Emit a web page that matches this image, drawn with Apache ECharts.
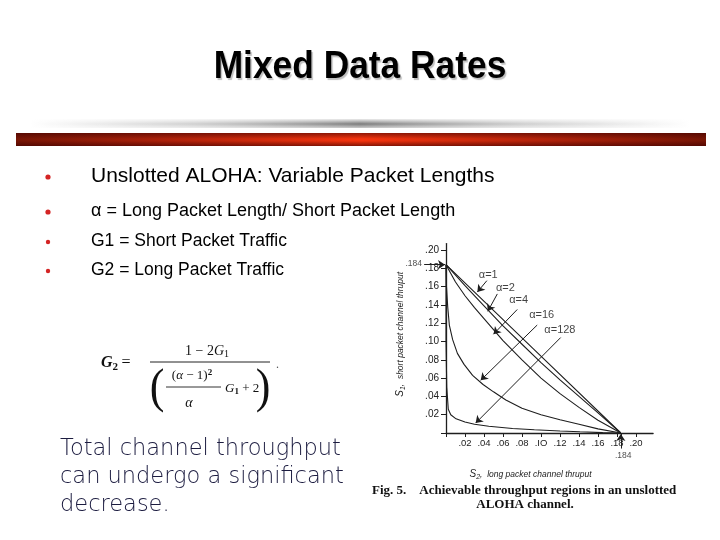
<!DOCTYPE html>
<html>
<head>
<meta charset="utf-8">
<script src="https://cdn.jsdelivr.net/npm/echarts@6/dist/echarts.min.js"></script>
<style>html,body{margin:0;padding:0;background:#fff}#c{width:720px;height:540px}</style>
</head>
<body>
<div id="c"></div>
<script>
// ---- data (S2 = long packet thruput, S1 = short packet thruput) ----
const tickValues = [0.02, 0.04, 0.06, 0.08, 0.10, 0.12, 0.14, 0.16, 0.18, 0.20];
const xTickLabels = ['.02', '.04', '.06', '.08', '.IO', '.12', '.14', '.16', '.18', '.20'];
const yTickLabels = ['.02', '.04', '.06', '.08', '.10', '.12', '.14', '.16', '.18', '.20'];

const curveAlpha1 = [[0, 0.184], [0.092, 0.092], [0.184, 0]];
const curveAlpha2 = [[0, 0.184], [0.02, 0.161], [0.04, 0.139], [0.06, 0.117], [0.08, 0.097], [0.10, 0.077],
  [0.12, 0.058], [0.14, 0.040], [0.16, 0.022], [0.184, 0]];
const curveAlpha4 = [[0, 0.184], [0.01, 0.165], [0.02, 0.150], [0.03, 0.137], [0.04, 0.125], [0.05, 0.113],
  [0.06, 0.101], [0.08, 0.080], [0.10, 0.060], [0.12, 0.043], [0.14, 0.028], [0.16, 0.014], [0.184, 0]];
const curveAlpha16 = [[0, 0.184], [0.0005, 0.160], [0.0018, 0.138], [0.0035, 0.118], [0.007, 0.102], [0.012, 0.087],
  [0.019, 0.075], [0.028, 0.063], [0.039, 0.053], [0.05, 0.045], [0.063, 0.036], [0.08, 0.027], [0.10, 0.020],
  [0.12, 0.0145], [0.14, 0.0095], [0.16, 0.0045], [0.184, 0]];
const curveAlpha128 = [[0, 0.184], [0, 0.10], [0.0008, 0.05], [0.0024, 0.026], [0.005, 0.020], [0.0106, 0.0155],
  [0.02, 0.012], [0.03, 0.0095], [0.045, 0.0073], [0.07, 0.005], [0.093, 0.0035], [0.12, 0.0022],
  [0.141, 0.0013], [0.165, 0.0004], [0.184, 0]];

const alphaNames = ['α=1', 'α=2', 'α=4', 'α=16', 'α=128'];
const alphaLabelPos = [[0.034, 0.173], [0.052, 0.159], [0.066, 0.145], [0.087, 0.1295], [0.103, 0.1126]];
const arrowFrom = [[0.043, 0.1665], [0.054, 0.152], [0.075, 0.135], [0.096, 0.118], [0.1207, 0.1043]];
const arrowTo = [[0.033, 0.154], [0.044, 0.133], [0.050, 0.108], [0.0365, 0.0576], [0.0312, 0.0108]];

const peakText = '.184';
const peakLabelPos = [[-0.034, 0.1855], [0.1865, -0.025]];
const peakArrowFrom = [[-0.023, 0.184], [0.184, -0.017]];
const peakArrowTo = [[-0.001, 0.184], [0.184, -0.001]];

const bulletTexts = ['Unslotted ALOHA: Variable Packet Lengths', 'α = Long Packet Length/ Short Packet Length',
  'G1 = Short Packet Traffic', 'G2 = Long Packet Traffic'];
const noteLines = ['Total channel throughput', 'can undergo a significant', 'decrease.'];
const captionLines = ['Fig. 5.    Achievable throughput regions in an unslotted', 'ALOHA channel.'];

function lab(list, v) {
  const i = tickValues.findIndex(t => Math.abs(t - v) < 1e-6);
  return i >= 0 ? list[i] : '';
}

const chart = echarts.init(document.getElementById('c'), null, {renderer: 'canvas'});
const ink = '#1e1e1e';
const sans = '"Liberation Sans", Arial, sans-serif';
const lineSeries = [curveAlpha1, curveAlpha2, curveAlpha4, curveAlpha16, curveAlpha128].map((d, i) => ({
  type: 'line', name: alphaNames[i], data: d, showSymbol: false, symbol: 'none', smooth: false,
  lineStyle: {color: ink, width: 1.1}, clip: false, silent: true, z: 3
}));

const arrows = arrowFrom.map((f, i) => ({coords: [f, arrowTo[i]]}))
  .concat(peakArrowFrom.map((f, i) => ({coords: [f, peakArrowTo[i]]})));

const graphics = [];
// title
graphics.push({type: 'text', x: 360, y: 68, scaleX: 0.93, originX: 0, originY: 0, style: {
  text: 'Mixed Data Rates', font: 'bold 38px ' + sans, align: 'center', verticalAlign: 'middle',
  fill: '#000', textShadowColor: 'rgba(0,0,0,0.25)', textShadowOffsetX: 1.5, textShadowOffsetY: 1.5, textShadowBlur: 1}});
// grey bar
graphics.push({type: 'rect', shape: {x: 30, y: 119, width: 660, height: 9}, style: {fill: new echarts.graphic.LinearGradient(0, 0, 1, 0, [
  {offset: 0, color: 'rgba(150,150,150,0)'}, {offset: 0.25, color: 'rgba(150,150,150,0.45)'}, {offset: 0.5, color: 'rgba(110,110,110,0.9)'},
  {offset: 0.75, color: 'rgba(150,150,150,0.45)'}, {offset: 1, color: 'rgba(150,150,150,0)'}])}, z: 1});
graphics.push({type: 'rect', shape: {x: 30, y: 119, width: 660, height: 9}, style: {fill: new echarts.graphic.LinearGradient(0, 0, 0, 1, [
  {offset: 0, color: 'rgba(255,255,255,0.85)'}, {offset: 0.55, color: 'rgba(255,255,255,0)'}, {offset: 1, color: 'rgba(255,255,255,0.6)'}])}, z: 2});
// red bar
graphics.push({type: 'rect', shape: {x: 16, y: 133, width: 690, height: 13}, style: {fill: new echarts.graphic.LinearGradient(0, 0, 1, 0, [
  {offset: 0, color: '#761505'}, {offset: 0.2, color: '#a8200a'}, {offset: 0.5, color: '#f5340e'},
  {offset: 0.8, color: '#a8200a'}, {offset: 1, color: '#761505'}])}, z: 1});
graphics.push({type: 'rect', shape: {x: 16, y: 133, width: 690, height: 13}, style: {fill: new echarts.graphic.LinearGradient(0, 0, 0, 1, [
  {offset: 0, color: 'rgba(60,0,0,0.55)'}, {offset: 0.45, color: 'rgba(60,0,0,0)'}, {offset: 0.6, color: 'rgba(60,0,0,0)'}, {offset: 1, color: 'rgba(60,0,0,0.6)'}])}, z: 2});
// bullets
const bulletY = [176, 211, 241, 270];
const bulletSize = [21, 18, 17.5, 17.5];
const bulletR = [2.6, 2.6, 2.2, 2.2];
bulletTexts.forEach((t, i) => {
  graphics.push({type: 'circle', shape: {cx: 48, cy: bulletY[i] + 1, r: bulletR[i]}, style: {fill: '#d42424'}});
  graphics.push({type: 'text', x: 91, y: bulletY[i], style: {text: t, font: bulletSize[i] + 'px ' + sans,
    fill: '#000', verticalAlign: 'middle'}});
});
// formula
const serif = '"Liberation Serif", "DejaVu Serif", serif';
graphics.push({type: 'text', x: 101, y: 363, style: {text: '{g|G}{s|2} {e|=}', verticalAlign: 'middle', rich: {
  g: {font: 'italic bold 16px ' + serif, fill: '#111'}, s: {font: 'bold 11px ' + serif, fill: '#111', padding: [8, 0, 0, 0]},
  e: {font: '16px ' + serif, fill: '#111'}}}});
graphics.push({type: 'text', x: 207, y: 351, style: {text: '{n|1 − 2}{g|G}{s|1}', align: 'center', verticalAlign: 'middle', rich: {
  n: {font: '14px ' + serif, fill: '#111'}, g: {font: 'italic 14px ' + serif, fill: '#111'}, s: {font: '10px ' + serif, fill: '#111', padding: [7, 0, 0, 0]}}}});
graphics.push({type: 'line', shape: {x1: 150, y1: 362, x2: 270, y2: 362}, style: {stroke: '#222', lineWidth: 1}});
graphics.push({type: 'text', x: 157, y: 389, scaleY: 1.1, originX: 0, originY: 0, style: {text: '(', align: 'center', verticalAlign: 'middle', font: '300 44px ' + serif, fill: '#111'}});
graphics.push({type: 'text', x: 263, y: 389, scaleY: 1.1, originX: 0, originY: 0, style: {text: ')', align: 'center', verticalAlign: 'middle', font: '300 44px ' + serif, fill: '#111'}});
graphics.push({type: 'text', x: 192, y: 376, style: {text: '{n|(}{g|α}{n| − 1)}{p|2}', align: 'center', verticalAlign: 'middle', rich: {
  n: {font: '13px ' + serif, fill: '#111'}, g: {font: 'italic 13px ' + serif, fill: '#111'}, p: {font: 'bold 9px ' + serif, fill: '#111', padding: [0, 0, 7, 0]}}}});
graphics.push({type: 'line', shape: {x1: 166, y1: 387, x2: 221, y2: 387}, style: {stroke: '#333', lineWidth: 1}});
graphics.push({type: 'text', x: 189, y: 403, style: {text: 'α', align: 'center', verticalAlign: 'middle', font: 'italic 14px ' + serif, fill: '#111'}});
graphics.push({type: 'text', x: 225, y: 389, style: {text: '{g|G}{s|1}{n| + 2}', verticalAlign: 'middle', rich: {
  n: {font: '13px ' + serif, fill: '#111'}, g: {font: 'italic 13px ' + serif, fill: '#111'}, s: {font: 'bold 9px ' + serif, fill: '#111', padding: [6, 0, 0, 0]}}}});
graphics.push({type: 'text', x: 276, y: 365, style: {text: '.', font: '12px ' + serif, fill: '#555', verticalAlign: 'middle'}});
// note text
noteLines.forEach((t, i) => {
  graphics.push({type: 'text', x: 60, y: 449 + i * 28, style: {text: t, verticalAlign: 'middle',
    font: '200 22.5px "DejaVu Sans", sans-serif', fill: '#1c1c40'}});
});
// caption
graphics.push({type: 'text', x: 372, y: 491, style: {text: captionLines[0], verticalAlign: 'middle', font: 'bold 13px ' + serif, fill: '#111'}});
graphics.push({type: 'text', x: 525, y: 505, style: {text: captionLines[1], align: 'center', verticalAlign: 'middle', font: 'bold 13px ' + serif, fill: '#111'}});

const nameRich = {
  s: {fontStyle: 'italic', fontSize: 10, fontFamily: sans, color: '#222'},
  b: {fontStyle: 'italic', fontSize: 7, fontFamily: sans, color: '#222', padding: [6, 0, 0, 0]},
  i: {fontStyle: 'italic', fontSize: 8.5, fontFamily: sans, color: '#222'}
};

const option = {
  backgroundColor: '#fff',
  animation: false,
  grid: {left: 446, top: 243.6, right: 66.9, bottom: 107, containLabel: false},
  xAxis: {
    type: 'value', min: 0, max: 0.218, interval: 0.02,
    name: '{s|S}{b|2}{i|,  long packet channel thruput}', nameLocation: 'middle', nameGap: 35,
    nameTextStyle: {padding: [0, 38, 0, 0], rich: nameRich},
    axisLine: {lineStyle: {color: ink, width: 1.3}},
    axisTick: {show: true, length: 4, inside: false, customValues: [0].concat(tickValues), lineStyle: {color: ink}},
    axisLabel: {customValues: tickValues, formatter: v => lab(xTickLabels, v), margin: 5,
      fontFamily: sans, fontSize: 9.5, color: '#222'},
    splitLine: {show: false}
  },
  yAxis: {
    type: 'value', min: 0, max: 0.207, interval: 0.02,
    name: '{s|S}{b|1}{i|,  short packet channel thruput}', nameLocation: 'middle', nameGap: 39, nameRotate: 90,
    nameTextStyle: {padding: [0, 0, 0, 8], rich: nameRich},
    axisLine: {lineStyle: {color: ink, width: 1.3}},
    axisTick: {show: true, length: 5, inside: false, customValues: [0].concat(tickValues), lineStyle: {color: ink}},
    axisLabel: {customValues: tickValues, formatter: v => lab(yTickLabels, v), margin: 7,
      fontFamily: sans, fontSize: 10, color: '#222'},
    splitLine: {show: false}
  },
  series: lineSeries.concat([
    {type: 'lines', coordinateSystem: 'cartesian2d', data: arrows, clip: false, silent: true, z: 4,
      symbol: ['none', 'arrow'], symbolSize: 7, lineStyle: {color: ink, width: 1, opacity: 1}},
    {type: 'scatter', data: alphaLabelPos.map((p, i) => ({value: p, label: {formatter: alphaNames[i]}})),
      symbolSize: 1, itemStyle: {color: 'rgba(0,0,0,0)'}, clip: false, silent: true, z: 5,
      label: {show: true, position: 'right', distance: 0, fontFamily: sans, fontSize: 11, color: '#111'}},
    {type: 'scatter', data: peakLabelPos.map(p => ({value: p})), symbolSize: 1, itemStyle: {color: 'rgba(0,0,0,0)'},
      clip: false, silent: true, z: 5,
      label: {show: true, position: 'inside', formatter: peakText, fontFamily: sans, fontSize: 8.5, color: '#222'}}
  ]),
  graphic: graphics
};
chart.setOption(option);
</script>
</body>
</html>
